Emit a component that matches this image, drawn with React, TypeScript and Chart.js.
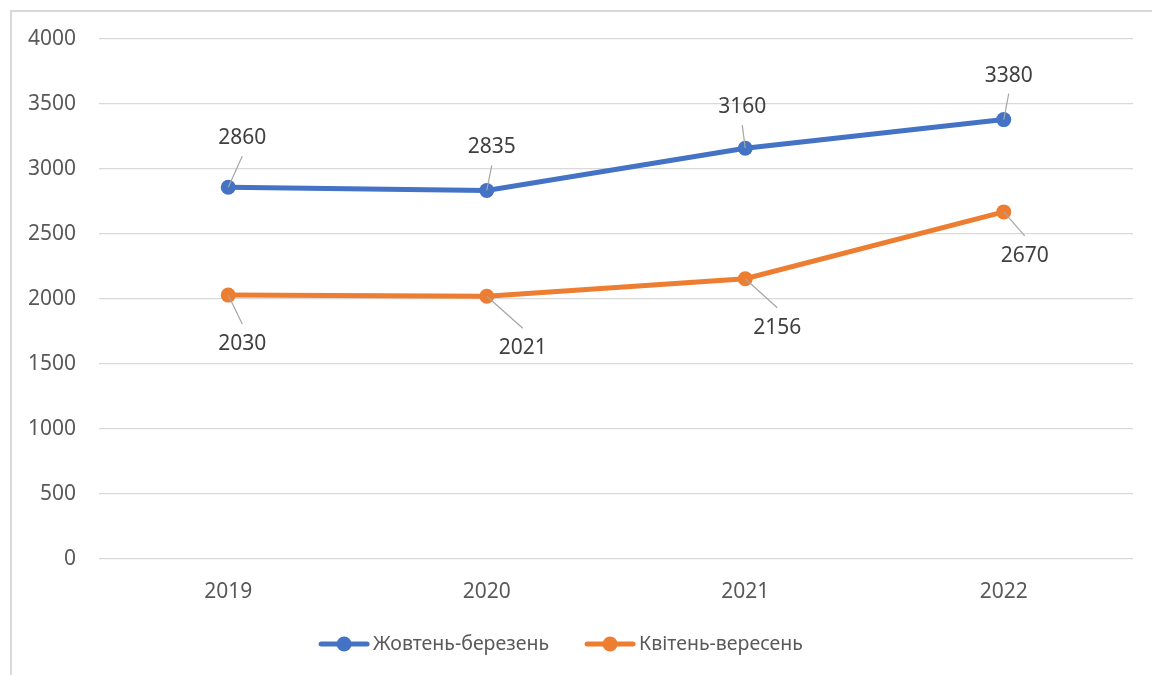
import React, { useEffect, useRef } from 'react';
import { Chart, registerables } from 'chart.js';

Chart.register(...registerables);

// ---- data ----
const categories = ['2019', '2020', '2021', '2022'];
const seriesNames = ['Жовтень-березень', 'Квітень-вересень'];
const octMarValues = [2860, 2835, 3160, 3380];
const aprSepValues = [2030, 2021, 2156, 2670];
const yMin = 0;
const yMax = 4000;
const yStep = 500;

// ---- style ----
const colors = ['#4472C4', '#ED7D31'];
const FONT = "'Noto Sans', 'DejaVu Sans', sans-serif";
const FONT_SIZE = 21;
const LEGEND_FONT_SIZE = 19.5;
// label offsets (px) from each point, per series
const labelOffsets = [
  [[14, -49], [5, -43], [-3, -41], [5, -44]],
  [[14, 49], [36, 52], [32, 49], [21, 44]],
];

const dataLabelPlugin = {
  id: 'dataLabelsLeader',
  afterDatasetsDraw(chart: any) {
    const ctx = chart.ctx;
    ctx.save();
    chart.data.datasets.forEach((ds: any, di: number) => {
      const meta = chart.getDatasetMeta(di);
      meta.data.forEach((el: any, i: number) => {
        const [dx, dy] = labelOffsets[di][i];
        const px = el.x;
        const py = el.y;
        const cx = px + dx;
        const cy = py + dy;
        const ey = dy < 0 ? cy + 18 : cy - 20;
        ctx.strokeStyle = '#a6a6a6';
        ctx.lineWidth = 1.2;
        ctx.beginPath();
        ctx.moveTo(px, py);
        ctx.lineTo(cx, ey);
        ctx.stroke();
        ctx.fillStyle = '#404040';
        ctx.font = `${FONT_SIZE}px ${FONT}`;
        ctx.textAlign = 'center';
        ctx.textBaseline = 'middle';
        ctx.fillText(String(ds.data[i]), cx, cy);
      });
    });
    ctx.restore();
  },
};

const legendPlugin = {
  id: 'customLegend',
  afterDraw(chart: any) {
    const ctx = chart.ctx;
    ctx.save();
    ctx.font = `${LEGEND_FONT_SIZE}px ${FONT}`;
    const sampleW = 50;
    const gapText = 4;
    const gapItem = 36;
    const widths = seriesNames.map((n) => ctx.measureText(n).width);
    const total = widths.reduce((a, w) => a + sampleW + gapText + w, 0) + gapItem * (seriesNames.length - 1);
    let x = chart.width / 2 - 15 - total / 2;
    const y = 644;
    seriesNames.forEach((n, i) => {
      ctx.strokeStyle = colors[i];
      ctx.lineWidth = 5;
      ctx.lineCap = 'round';
      ctx.beginPath();
      ctx.moveTo(x + 2, y);
      ctx.lineTo(x + sampleW - 2, y);
      ctx.stroke();
      ctx.fillStyle = colors[i];
      ctx.beginPath();
      ctx.arc(x + sampleW / 2, y, 7.5, 0, Math.PI * 2);
      ctx.fill();
      ctx.fillStyle = '#595959';
      ctx.textAlign = 'left';
      ctx.textBaseline = 'middle';
      ctx.fillText(n, x + sampleW + gapText, y);
      x += sampleW + gapText + widths[i] + gapItem;
    });
    ctx.restore();
  },
};

export default function App() {
  const ref = useRef<HTMLCanvasElement>(null);

  useEffect(() => {
    if (!ref.current) return;
    const chart = new Chart(ref.current, {
      type: 'line',
      data: {
        labels: categories,
        datasets: [
          {
            label: seriesNames[0],
            data: octMarValues,
            borderColor: colors[0],
            backgroundColor: colors[0],
            borderWidth: 5,
            pointRadius: 7.5,
            pointBorderWidth: 0,
            pointBackgroundColor: colors[0],
            tension: 0,
          },
          {
            label: seriesNames[1],
            data: aprSepValues,
            borderColor: colors[1],
            backgroundColor: colors[1],
            borderWidth: 5,
            pointRadius: 7.5,
            pointBorderWidth: 0,
            pointBackgroundColor: colors[1],
            tension: 0,
          },
        ],
      },
      options: {
        responsive: false,
        animation: false,
        layout: { padding: { left: 0, right: 19, top: 39, bottom: 0 } },
        plugins: {
          legend: { display: false },
          tooltip: { enabled: false },
        },
        scales: {
          x: {
            offset: true,
            grid: { display: false, drawTicks: false },
            border: { display: false },
            ticks: {
              padding: 20,
              color: '#595959',
              font: { family: FONT, size: FONT_SIZE },
            },
            afterFit: (s: any) => {
              s.height = 116;
            },
          },
          y: {
            min: yMin,
            max: yMax,
            grid: { color: '#d9d9d9', lineWidth: 1.3, drawTicks: false },
            border: { display: false },
            ticks: {
              stepSize: yStep,
              padding: 23,
              color: '#595959',
              font: { family: FONT, size: FONT_SIZE },
              callback: (v: any) => String(v),
            },
            afterFit: (s: any) => {
              s.width = 99;
            },
          },
        },
      },
      plugins: [dataLabelPlugin, legendPlugin],
    });
    return () => chart.destroy();
  }, []);

  return (
    <div style={{ position: 'fixed', left: 0, top: 0, width: 1152, height: 675, overflow: 'hidden', background: '#fff' }}>
      <div
        style={{
          position: 'absolute',
          left: 10,
          top: 10,
          width: 1200,
          height: 720,
          border: '2px solid #d9d9d9',
          boxSizing: 'border-box',
        }}
      />
      <canvas
        ref={ref}
        width={1152}
        height={675}
        style={{ position: 'absolute', left: 0, top: 0, width: 1152, height: 675 }}
      />
    </div>
  );
}
